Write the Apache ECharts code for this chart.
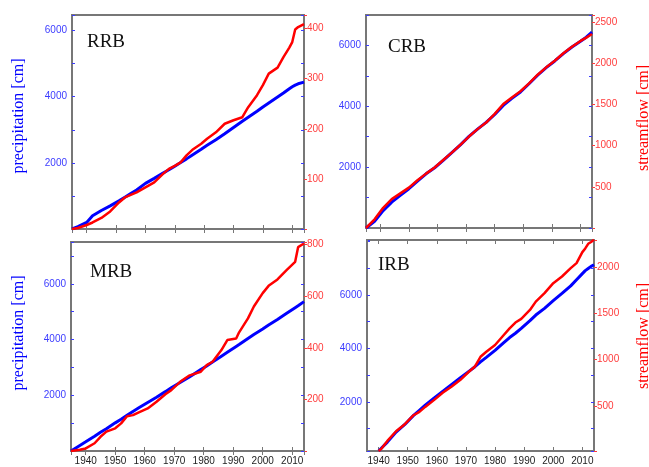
<!DOCTYPE html>
<html>
<head>
<meta charset="utf-8">
<script src="https://cdn.jsdelivr.net/npm/echarts@6.0.0/dist/echarts.min.js"></script>
<style>
  html, body { margin: 0; padding: 0; background: #fff; }
  #chart { width: 649px; height: 467px; }
</style>
</head>
<body>
<div id="chart"></div>
<script>
// cumulative precipitation (left axis) and streamflow (right axis), cm

// RRB
const rrbYears = [1935, 1937, 1940, 1942, 1945, 1948, 1951, 1953, 1955, 1957, 1960, 1963, 1966, 1968, 1970, 1972, 1974, 1976, 1979, 1981, 1984, 1987, 1990, 1993, 1995, 1998, 2000, 2002, 2005, 2007, 2009, 2010, 2011, 2012, 2014];
const rrbPrecip = [0, 70, 200, 400, 560, 700, 850, 960, 1070, 1180, 1380, 1530, 1690, 1790, 1900, 2010, 2120, 2240, 2410, 2530, 2700, 2880, 3070, 3260, 3380, 3560, 3690, 3810, 3990, 4110, 4240, 4300, 4350, 4390, 4440];
const rrbStream = [0, 2, 8, 13, 22, 35, 53, 63, 68, 73, 83, 93, 110, 120, 126, 133, 147, 158, 170, 180, 193, 210, 217, 223, 243, 267, 287, 310, 322, 343, 362, 373, 398, 403, 409];

// CRB
const crbYears = [1935, 1938, 1941, 1944, 1947, 1950, 1953, 1956, 1959, 1962, 1965, 1968, 1971, 1974, 1977, 1980, 1983, 1986, 1989, 1992, 1995, 1998, 2001, 2004, 2007, 2010, 2012, 2014];
const crbPrecip = [0, 220, 570, 850, 1070, 1290, 1540, 1780, 1980, 2220, 2480, 2730, 3010, 3250, 3470, 3730, 4030, 4260, 4470, 4740, 5020, 5270, 5490, 5730, 5950, 6140, 6270, 6440];
const crbStream = [0, 105, 245, 350, 420, 490, 580, 660, 735, 825, 915, 1010, 1110, 1200, 1280, 1385, 1505, 1585, 1660, 1755, 1860, 1950, 2030, 2120, 2200, 2270, 2310, 2355];

// MRB
const mrbYears = [1935, 1938, 1940, 1943, 1945, 1947, 1950, 1952, 1954, 1956, 1958, 1961, 1964, 1967, 1969, 1972, 1975, 1979, 1981, 1983, 1986, 1988, 1991, 1992, 1995, 1997, 2000, 2002, 2005, 2008, 2011, 2012, 2014];
const mrbPrecip = [0, 200, 330, 530, 670, 800, 1010, 1140, 1280, 1420, 1550, 1740, 1930, 2130, 2270, 2460, 2650, 2920, 3050, 3190, 3400, 3540, 3750, 3820, 4040, 4180, 4380, 4520, 4720, 4930, 5140, 5210, 5360];
const mrbStream = [0, 5, 10, 30, 55, 75, 88, 107, 135, 139, 150, 165, 191, 220, 236, 268, 292, 307, 333, 346, 391, 430, 436, 460, 514, 560, 612, 640, 665, 700, 733, 790, 804];

// IRB
const irbYears = [1940, 1941, 1943, 1946, 1949, 1952, 1954, 1956, 1959, 1962, 1965, 1968, 1971, 1973, 1975, 1977, 1980, 1983, 1985, 1987, 1989, 1992, 1994, 1997, 2000, 2003, 2006, 2008, 2010, 2011, 2012, 2013, 2014];
const irbPrecip = [170, 280, 500, 875, 1160, 1500, 1690, 1880, 2140, 2395, 2645, 2895, 3145, 3310, 3500, 3670, 3930, 4220, 4410, 4570, 4750, 5040, 5250, 5500, 5790, 6060, 6340, 6570, 6800, 6910, 6990, 7070, 7130];
const irbStream = [14, 40, 123, 227, 303, 400, 436, 490, 563, 642, 707, 779, 869, 923, 1031, 1085, 1158, 1266, 1338, 1400, 1440, 1536, 1626, 1717, 1825, 1897, 1987, 2041, 2160, 2200, 2250, 2270, 2293];

const precipLabelStep = 2000;
const yearLabelStep = 10;

// ===== 样式 =====
const C = {
  precip: '#0000ff',
  stream: '#ff0000',
  precipText: '#3c3cff',
  streamText: '#ff3c3c',
  frame: '#777777',
  text: '#222222',
};
const SANS = '"Liberation Sans", Arial, sans-serif';
const SERIF = '"Liberation Serif", "Times New Roman", serif';

const pairs = (xs, ys) => xs.map((x, i) => [x, ys[i]]);

const panels = [
  { name: 'RRB', years: rrbYears, precip: rrbPrecip, stream: rrbStream,
    grid: { left: 72, top: 15, width: 232, height: 214 },
    x: [1935, 2014], p: [0, 6470], s: [0, 427], pSplit: 7, sSplit: 4, sStep: 100,
    xLabels: false, title: [87, 33], yName: { text: 'precipitation [cm]', x: 19, y: 116, color: C.precip } },
  { name: 'CRB', years: crbYears, precip: crbPrecip, stream: crbStream,
    grid: { left: 366, top: 15, width: 226, height: 213 },
    x: [1935, 2014], p: [0, 7000], s: [0, 2585], pSplit: 7, sSplit: 5, sStep: 500,
    xLabels: false, title: [388, 38], yName: { text: 'streamflow [cm]', x: 644, y: 118, color: C.stream } },
  { name: 'MRB', years: mrbYears, precip: mrbPrecip, stream: mrbStream,
    grid: { left: 71, top: 242, width: 233, height: 209 },
    x: [1935, 2014], p: [0, 7500], s: [0, 810], pSplit: 7, sSplit: 4, sStep: 200,
    xLabels: true, title: [90, 263], yName: { text: 'precipitation [cm]', x: 19, y: 333, color: C.precip } },
  { name: 'IRB', years: irbYears, precip: irbPrecip, stream: irbStream,
    grid: { left: 367, top: 240, width: 227, height: 211 },
    x: [1936, 2014], p: [168, 8056], s: [14, 2291], pSplit: 8, sSplit: 5, sStep: 500,
    xLabels: true, title: [378, 256], yName: { text: 'streamflow [cm]', x: 644, y: 336, color: C.stream } },
];

const xAxes = [];
const yAxes = [];
const series = [];

panels.forEach((pn, i) => {
  const xBase = {
    type: 'value', gridIndex: i, min: pn.x[0], max: pn.x[1], splitNumber: 8,
    axisLine: { show: false },
    axisTick: { inside: true, length: 4, lineStyle: { color: C.frame, width: 1 } },
    splitLine: { show: false },
  };
  // 下轴
  xAxes.push({
    ...xBase, position: 'bottom',
    axisLabel: {
      show: pn.xLabels, margin: 5, color: C.text, fontSize: 10, fontFamily: SANS,
      formatter: (v) => (v % yearLabelStep === 0 ? String(v) : ''),
    },
  });
  // 上轴（只画刻度）
  xAxes.push({ ...xBase, position: 'top', axisLabel: { show: false } });

  // 左轴：降水
  yAxes.push({
    type: 'value', gridIndex: i, position: 'left', min: pn.p[0], max: pn.p[1], splitNumber: pn.pSplit,
    axisLine: { show: false },
    axisTick: { inside: true, length: 3, lineStyle: { color: C.precipText } },
    splitLine: { show: false },
    axisLabel: {
      margin: 5, color: C.precipText, fontSize: 10, fontFamily: SANS,
      // 顶端附近不标（IRB 没有 8000）
      formatter: (v) => (v > 0 && v % precipLabelStep === 0 && v < pn.p[1] - 200 ? String(v) : ''),
    },
  });
  // 右轴：径流
  yAxes.push({
    type: 'value', gridIndex: i, position: 'right', min: pn.s[0], max: pn.s[1], splitNumber: pn.sSplit,
    axisLine: { show: false },
    axisTick: { inside: false, length: 3, lineStyle: { color: C.streamText } },
    splitLine: { show: false },
    axisLabel: {
      margin: 3, color: C.streamText, fontSize: 10, fontFamily: SANS,
      formatter: (v) => (v > 0 && v % pn.sStep === 0 ? String(v) : ''),
    },
  });
  // 右侧镜像的降水刻度
  yAxes.push({
    type: 'value', gridIndex: i, position: 'right', min: pn.p[0], max: pn.p[1], splitNumber: pn.pSplit,
    axisLine: { show: false },
    axisTick: { inside: true, length: 3, lineStyle: { color: C.precipText } },
    axisLabel: { show: false },
    splitLine: { show: false },
  });

  series.push({
    type: 'line', name: pn.name + ' precipitation', xAxisIndex: 2 * i, yAxisIndex: 3 * i,
    data: pairs(pn.years, pn.precip), showSymbol: false, z: 2,
    lineStyle: { color: C.precip, width: 3 }, itemStyle: { color: C.precip },
  });
  series.push({
    type: 'line', name: pn.name + ' streamflow', xAxisIndex: 2 * i, yAxisIndex: 3 * i + 1,
    data: pairs(pn.years, pn.stream), showSymbol: false, z: 3,
    lineStyle: { color: C.stream, width: 2.5 }, itemStyle: { color: C.stream },
  });
});

const graphics = [];
panels.forEach((pn) => {
  graphics.push({
    type: 'text', left: pn.title[0], top: pn.title[1], z: 10,
    style: { text: pn.name, fill: '#111', font: '19px ' + SERIF },
  });
  graphics.push({
    type: 'text', x: pn.yName.x, y: pn.yName.y, rotation: Math.PI / 2, z: 10,
    style: {
      text: pn.yName.text, fill: pn.yName.color, font: '16px ' + SERIF,
      align: 'center', verticalAlign: 'middle',
    },
  });
});

const chart = echarts.init(document.getElementById('chart'), null, { renderer: 'canvas' });
chart.setOption({
  animation: false,
  backgroundColor: '#ffffff',
  grid: panels.map((pn) => ({
    ...pn.grid, show: true, borderColor: C.frame, borderWidth: 2, backgroundColor: 'transparent',
  })),
  xAxis: xAxes,
  yAxis: yAxes,
  series,
  graphic: graphics,
});
</script>
</body>
</html>
